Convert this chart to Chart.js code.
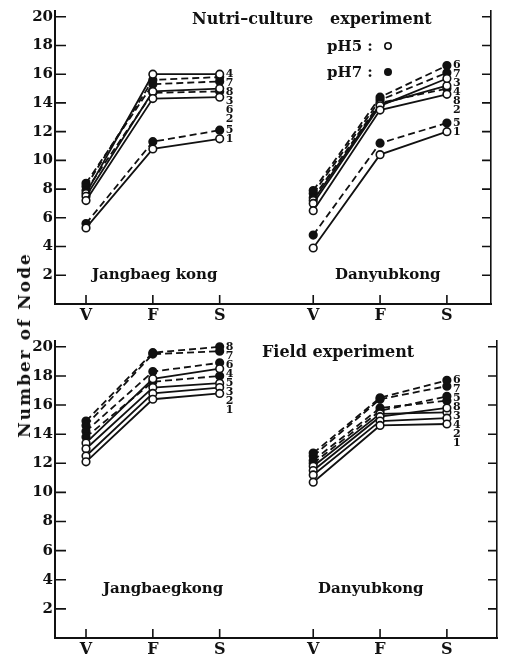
<!DOCTYPE html>
<html>
<head>
<meta charset="utf-8">
<script src="https://cdn.jsdelivr.net/npm/chart.js@4.4.1/dist/chart.umd.min.js"></script>
<style>
html, body { margin: 0; padding: 0; background: #fff; }
#wrap { position: relative; width: 507px; height: 662px; }
#topChart { position: absolute; left: 0; top: 0; }
#botChart { position: absolute; left: 0; top: 330px; }
#ylab {
    position: absolute; left: 24px; top: 345px;
    transform: translate(-50%, -50%) rotate(-90deg);
    font: bold 17px 'DejaVu Serif'; letter-spacing: 2px; color: #111; white-space: nowrap;
}
</style>
</head>
<body>
<div id="wrap">
    <canvas id="topChart" width="507" height="330"></canvas>
    <canvas id="botChart" width="507" height="332"></canvas>
    <div id="ylab">Number of Node</div>
</div>
<script>
'use strict';

// ─── DATA ─────────────────────────────────────────────
const stageLabels = ['V', 'F', 'S', 'V', 'F', 'S'];
const stageX = [1, 2, 3, 4.4, 5.4, 6.4];
const yTicks = [2, 4, 6, 8, 10, 12, 14, 16, 18, 20];
const seriesIds = ['1', '2', '3', '4', '5', '6', '7', '8'];   // 1-4 pH5 (open), 5-8 pH7 (filled)

// rows = series 1..8, columns = V, F, S
const nutriJangbaeg = [
    [5.3, 10.8, 11.5], [7.2, 14.3, 14.4], [7.5, 14.8, 15.0], [7.7, 16.0, 16.0],
    [5.6, 11.3, 12.1], [7.9, 14.7, 14.8], [8.2, 15.6, 15.8], [8.4, 15.3, 15.5]
];
const nutriDanyub = [
    [3.9, 10.4, 12.0], [6.5, 13.5, 14.6], [7.0, 13.8, 15.7], [7.2, 13.9, 15.2],
    [4.8, 11.2, 12.6], [7.9, 14.4, 16.6], [7.7, 14.2, 16.1], [7.4, 14.0, 15.0]
];
const fieldJangbaeg = [
    [12.1, 16.4, 16.8], [12.5, 16.8, 17.2], [13.0, 17.2, 17.5], [13.4, 17.8, 18.5],
    [13.8, 17.6, 18.0], [14.2, 18.3, 18.9], [14.6, 19.5, 19.7], [14.9, 19.6, 20.0]
];
const fieldDanyub = [
    [10.7, 14.6, 14.7], [11.2, 14.9, 15.1], [11.5, 15.2, 15.8], [11.8, 15.4, 15.5],
    [12.0, 15.6, 16.6], [12.7, 16.5, 17.7], [12.5, 16.4, 17.3], [12.2, 15.8, 16.3]
];

const INK = '#111';
const SERIF = "'DejaVu Serif', 'Liberation Serif', serif";

function buildSets(jang, danyu) {
    const sets = [];
    [jang, danyu].forEach((grp, g) => {
        grp.forEach((vals, i) => {
            const open = i < 4;
            sets.push({
                label: seriesIds[i],
                group: g,
                data: vals.map((v, k) => ({ x: stageX[g * 3 + k], y: v })),
                borderColor: INK,
                borderWidth: 1.8,
                borderDash: open ? [] : [7, 4],
                pointRadius: 3.8,
                pointBorderWidth: 1.6,
                pointBackgroundColor: open ? '#fff' : INK,
                pointBorderColor: INK,
                fill: false,
                tension: 0
            });
        });
    });
    return sets;
}

// inward tick marks, end numbers, panel texts
const decor = {
    id: 'decor',
    afterDraw(chart, args, opts) {
        const { ctx, chartArea: a, scales: { x, y } } = chart;
        ctx.save();
        ctx.strokeStyle = INK;
        ctx.lineWidth = 1.6;
        ctx.beginPath();
        stageX.forEach(v => {
            const px = x.getPixelForValue(v);
            ctx.moveTo(px, a.bottom); ctx.lineTo(px, a.bottom - 9);
        });
        yTicks.forEach(v => {
            const py = y.getPixelForValue(v);
            ctx.moveTo(a.left, py); ctx.lineTo(a.left + 11, py);
            ctx.moveTo(a.right, py); ctx.lineTo(a.right - 9, py);
        });
        ctx.stroke();

        // series numbers at the S end of each group
        ctx.fillStyle = INK;
        ctx.font = 'bold 11px ' + SERIF;
        ctx.textBaseline = 'middle';
        ctx.textAlign = 'left';
        [0, 1].forEach(g => {
            const ends = [];
            chart.data.datasets.forEach((ds, i) => {
                if (ds.group !== g) return;
                const pt = chart.getDatasetMeta(i).data[2];
                ends.push({ t: ds.label, x: pt.x, y: pt.y });
            });
            ends.sort((p, q) => p.y - q.y);
            let prev = -Infinity;
            ends.forEach(e => {
                const ly = Math.max(e.y, prev + 9);
                ctx.fillText(e.t, e.x + 6, ly);
                prev = ly;
            });
        });

        // panel texts
        ctx.textBaseline = 'alphabetic';
        (opts.texts || []).forEach(t => {
            ctx.font = 'bold ' + (t.size || 15) + 'px ' + SERIF;
            ctx.fillText(t.t, t.x, t.y);
        });

        if (opts.legend) {
            ctx.lineWidth = 1.6;
            ctx.beginPath();
            ctx.arc(opts.legend.x, opts.legend.y1, 3.2, 0, Math.PI * 2);
            ctx.stroke();
            ctx.beginPath();
            ctx.arc(opts.legend.x, opts.legend.y2, 4, 0, Math.PI * 2);
            ctx.fill();
        }
        ctx.restore();
    }
};

function makeChart(id, sets, cfg) {
    return new Chart(document.getElementById(id), {
        type: 'line',
        data: { datasets: sets },
        plugins: [decor],
        options: {
            responsive: false,
            animation: false,
            layout: { padding: { top: cfg.padTop, left: 0, right: 0, bottom: 0 } },
            plugins: {
                legend: { display: false },
                tooltip: { enabled: false },
                decor: { texts: cfg.texts, legend: cfg.legend }
            },
            scales: {
                x: {
                    type: 'linear',
                    min: cfg.xMin, max: cfg.xMax,
                    afterBuildTicks: s => { s.ticks = stageX.map(v => ({ value: v })); },
                    afterFit: s => { s.height = cfg.xHeight; },
                    ticks: {
                        callback: (v, i) => stageLabels[i],
                        font: { family: SERIF, size: 16, weight: 'bold' },
                        color: INK, padding: 2, maxRotation: 0, autoSkip: false
                    },
                    grid: { display: false, drawTicks: false, tickLength: 0 },
                    border: { display: true, color: INK, width: 2 }
                },
                y: {
                    min: 0, max: 20.4,
                    afterBuildTicks: s => { s.ticks = yTicks.map(v => ({ value: v })); },
                    afterFit: s => { s.width = 55; },
                    ticks: {
                        font: { family: SERIF, size: 15, weight: 'bold' },
                        color: INK, padding: 2
                    },
                    grid: { display: false, drawTicks: false, tickLength: 0 },
                    border: { display: true, color: INK, width: 2 }
                },
                y2: {
                    position: 'right',
                    min: 0, max: 20.4,
                    afterFit: s => { s.width = cfg.rightW; },
                    ticks: { display: false },
                    grid: { display: false, drawTicks: false, tickLength: 0 },
                    border: { display: true, color: INK, width: 1.6 }
                }
            }
        }
    });
}

makeChart('topChart', buildSets(nutriJangbaeg, nutriDanyub), {
    padTop: 8, xHeight: 26, rightW: 16, xMin: 0.536, xMax: 7.06,
    texts: [
        { t: 'Nutri–culture   experiment', x: 192, y: 24, size: 16 },
        { t: 'pH5 :', x: 327, y: 51 },
        { t: 'pH7 :', x: 327, y: 77 },
        { t: 'Jangbaeg kong', x: 92, y: 279 },
        { t: 'Danyubkong', x: 335, y: 279 }
    ],
    legend: { x: 388, y1: 46, y2: 72 }
});

makeChart('botChart', buildSets(fieldJangbaeg, fieldDanyub), {
    padTop: 10, xHeight: 24, rightW: 10, xMin: 0.536, xMax: 7.15,
    texts: [
        { t: 'Field experiment', x: 262, y: 27, size: 16 },
        { t: 'Jangbaegkong', x: 103, y: 263 },
        { t: 'Danyubkong', x: 318, y: 263 }
    ]
});
</script>
</body>
</html>
